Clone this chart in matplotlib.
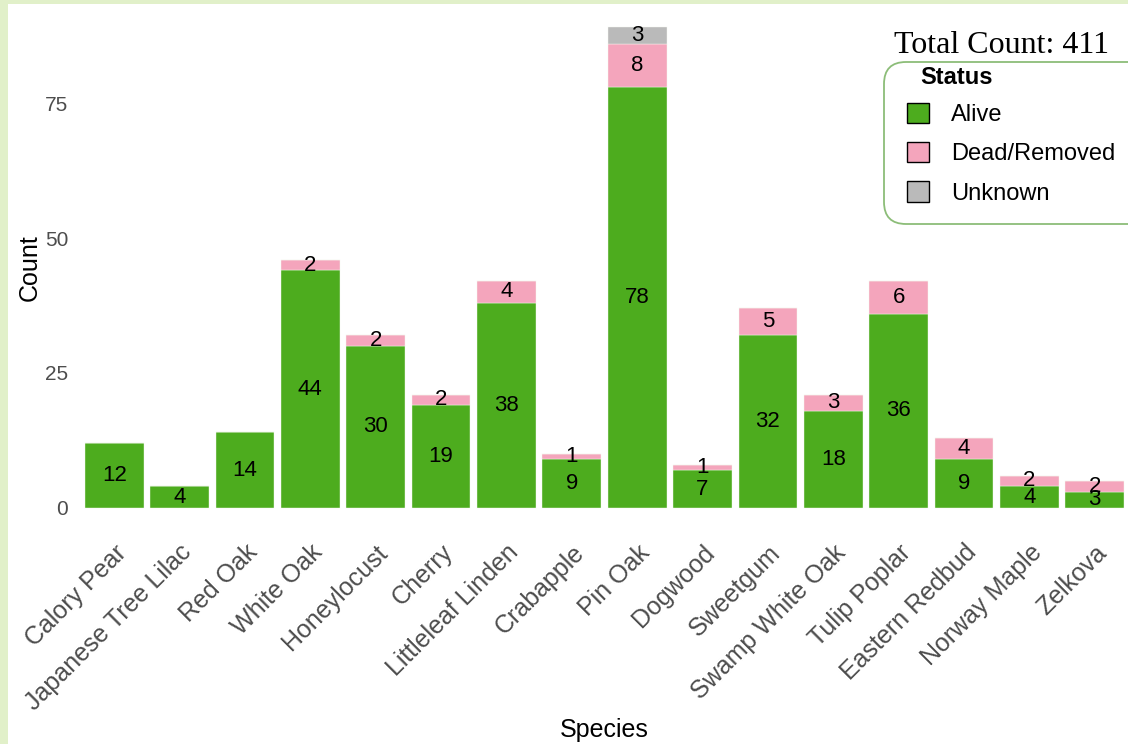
import matplotlib.pyplot as plt
from matplotlib.patches import Patch, Rectangle, FancyBboxPatch
from matplotlib.transforms import IdentityTransform

species = ["Calory Pear", "Japanese Tree Lilac", "Red Oak", "White Oak", "Honeylocust",
           "Cherry", "Littleleaf Linden", "Crabapple", "Pin Oak", "Dogwood", "Sweetgum",
           "Swamp White Oak", "Tulip Poplar", "Eastern Redbud", "Norway Maple", "Zelkova"]
alive = [12, 4, 14, 44, 30, 19, 38, 9, 78, 7, 32, 18, 36, 9, 4, 3]
dead = [0, 0, 0, 2, 2, 2, 4, 1, 8, 1, 5, 3, 6, 4, 2, 2]
unknown = [0, 0, 0, 0, 0, 0, 0, 0, 3, 0, 0, 0, 0, 0, 0, 0]
total_count = 411

statuses = ["Alive", "Dead/Removed", "Unknown"]
colors = {"Alive": "#4dac1e", "Dead/Removed": "#f4a5bc", "Unknown": "#bababa"}

plt.rcParams['font.family'] = ['Liberation Sans', 'DejaVu Sans']

W, H = 1128, 744
fig = plt.figure(figsize=(W / 100, H / 100), dpi=100, facecolor="#e1f0c9")
fig.patches.append(Rectangle((8 / W, 0), 1, 1 - 4 / H, transform=fig.transFigure,
                             facecolor="white", edgecolor="none", zorder=-10))

ax = fig.add_axes([75 / W, 212 / H, 1059 / W, 528.6 / H])
ax.set_facecolor("none")

x = list(range(len(species)))
bottom = [0] * len(species)
for status, vals in zip(statuses, [alive, dead, unknown]):
    ax.bar(x, vals, width=0.9, bottom=bottom, color=colors[status],
           edgecolor="#f4f8f0", linewidth=0.3)
    for i, v in enumerate(vals):
        if v > 0:
            ax.text(i, bottom[i] + v / 2, str(v), ha="center", va="center",
                    fontsize=16, color="black")
    bottom = [b + v for b, v in zip(bottom, vals)]

top = max(bottom)
ax.set_ylim(-0.05 * top, 1.05 * top)
ax.set_xlim(-0.6, len(species) - 0.4)
ax.set_yticks([0, 25, 50, 75])
ax.set_xticks(x)
ax.set_xticklabels(species, rotation=45, ha="right", rotation_mode="anchor")
ax.tick_params(length=0, labelcolor="#4d4d4d")
ax.tick_params(axis="x", pad=6, labelsize=18)
ax.tick_params(axis="y", pad=5, labelsize=15)
for s in ax.spines.values():
    s.set_visible(False)

ax.set_ylabel("Count", fontsize=18, labelpad=2)
ax.set_xlabel("Species", fontsize=18, labelpad=2)

# legend box drawn by hand (pixel coordinates)
box = FancyBboxPatch((884, H - 224), 270, 162, boxstyle="round,pad=0,rounding_size=22",
                     transform=IdentityTransform(), facecolor="white",
                     edgecolor="#8cbd78", linewidth=1.3)
fig.patches.append(box)
fig.text(920 / W, 1 - 77 / H, "Status", fontsize=17, fontweight="bold",
         ha="left", va="center")

handles = [Patch(facecolor=colors[s], edgecolor="black", linewidth=1) for s in statuses]
leg = fig.legend(handles, statuses, loc="upper left",
                 bbox_to_anchor=(907 / W, 1 - 103 / H), fontsize=17,
                 handlelength=0.95, handleheight=0.95, handletextpad=0.9,
                 labelspacing=0.67, borderpad=0, borderaxespad=0, frameon=False)

fig.text(1002 / W, 1 - 53 / H, f"Total Count: {total_count}", ha="center",
         va="baseline", fontsize=23, family="Liberation Serif")

fig.savefig("out.png", dpi=100, facecolor=fig.get_facecolor())
